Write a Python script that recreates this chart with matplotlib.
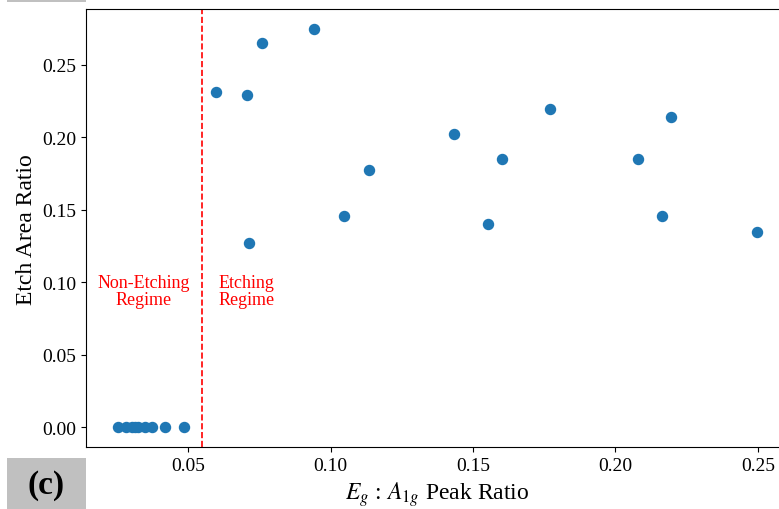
"""Etch area ratio vs Eg:A1g peak ratio scatter."""

import matplotlib

matplotlib.use("Agg")
import matplotlib.pyplot as plt
from matplotlib.patches import Rectangle

plt.rcParams["font.family"] = ["Liberation Serif", "DejaVu Serif"]
plt.rcParams["mathtext.fontset"] = "stix"

# non-etching samples (zero etch area)
peak_ratio_zero = [0.0254, 0.0282, 0.0303, 0.0313, 0.0324, 0.0348, 0.0373, 0.0418, 0.0485]
etch_zero = [0.0] * len(peak_ratio_zero)

# etching samples
peak_ratio = [0.0598, 0.0707, 0.0760, 0.0941, 0.1136, 0.1049, 0.0714, 0.1435,
              0.1602, 0.1771, 0.1554, 0.2079, 0.2196, 0.2164, 0.2497]
etch_area = [0.2314, 0.2290, 0.2651, 0.2748, 0.1777, 0.1461, 0.1273, 0.2023,
             0.1851, 0.2195, 0.1406, 0.1851, 0.2140, 0.1456, 0.1346]

threshold = 0.055

fig = plt.figure(figsize=(7.79, 5.10), dpi=100)
ax = fig.add_axes([0.1104, 0.121, 0.9025, 0.8594])

ax.scatter(peak_ratio_zero + peak_ratio, etch_zero + etch_area, s=52, color="#1f77b4", zorder=3)
ax.axvline(threshold, color="red", linestyle="--", linewidth=1.2)

ax.text(0.0345, 0.094, "Non-Etching\nRegime", color="red", ha="center", va="center",
        fontsize=13, linespacing=1.0)
ax.text(0.0705, 0.094, "Etching\nRegime", color="red", ha="center", va="center",
        fontsize=13, linespacing=1.0)

ax.set_xticks([0.05, 0.10, 0.15, 0.20, 0.25])
ax.set_yticks([0.00, 0.05, 0.10, 0.15, 0.20, 0.25])
ax.tick_params(labelsize=14)
ax.set_xlabel("$E_g$ : $A_{1g}$ Peak Ratio", fontsize=17)
ax.set_ylabel("Etch Area Ratio", fontsize=17)

# panel label boxes
fig.patches.append(Rectangle((7 / 779, 0), 79 / 779, 51 / 510, transform=fig.transFigure,
                             facecolor="#c0c0c0", edgecolor="none"))
fig.patches.append(Rectangle((7 / 779, 1 - 3 / 510), 79 / 779, 3 / 510, transform=fig.transFigure,
                             facecolor="#c0c0c0", edgecolor="none"))
fig.text(46.5 / 779, 24 / 510, "(c)", fontsize=24, fontweight="bold", ha="center", va="center")

fig.savefig("out.png", dpi=100)
